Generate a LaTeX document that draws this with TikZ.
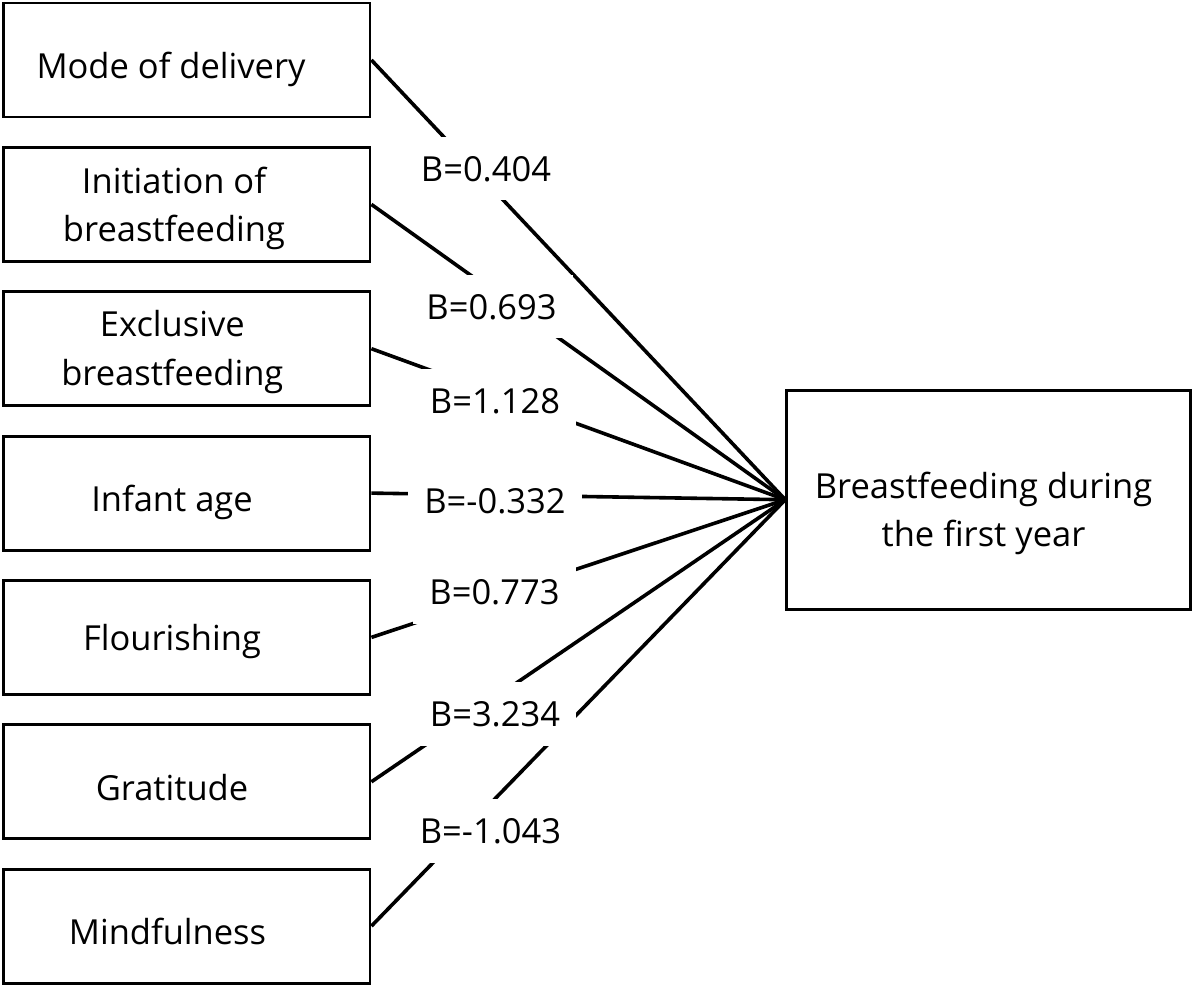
\documentclass[tikz,border=0pt]{standalone}
\usepackage{fontspec}
\setmainfont{Open Sans}
\begin{document}
\begin{tikzpicture}[x=0.5pt,y=-0.5pt]
\tikzstyle{every node}+=[font=\fontsize{17.25}{24.15}\selectfont]
\tikzstyle{factor}=[draw, line width=1.4pt, minimum width=183.3pt, minimum height=57pt, inner sep=0pt]
\tikzstyle{outcome}=[draw, line width=1.4pt, minimum width=202pt, minimum height=109.6pt, inner sep=0pt]
\tikzstyle{caption}=[anchor=base, align=center, inner sep=0pt]
\tikzstyle{coef}=[anchor=base, fill=white, inner xsep=8pt, inner ysep=9.5pt]
\useasboundingbox (0,0) rectangle (1192,985);
% predictor boxes
\node [factor] (f1) at (186.7,60) {};
\node [factor] (f2) at (186.7,204.4) {};
\node [factor] (f3) at (186.7,348.7) {};
\node [factor] (f4) at (186.7,493.1) {};
\node [factor] (f5) at (186.7,637.4) {};
\node [factor] (f6) at (186.7,781.8) {};
\node [factor] (f7) at (186.7,926.1) {};
\node [caption] (n1) at (171,78.3) {Mode of delivery};
\node [caption] (n2) at (174,241.7) {Initiation of\\breastfeeding};
\node [caption] (n3) at (172.3,385) {Exclusive\\breastfeeding};
\node [caption] (n4) at (172,511) {Infant age};
\node [caption] (n5) at (172,650.7) {Flourishing};
\node [caption] (n6) at (172,800) {Gratitude};
\node [caption] (n7) at (167.5,944) {Mindfulness};
% outcome box
\node [outcome] (out) at (988.7,499.7) {};
\node [caption] (n8) at (983.5,546.7) {Breastfeeding during\\the first year};
% paths
\foreach \i in {1,...,7}
  \draw [line width=1.8pt] (f\i.east) -- (out.west);
\node [coef] (b1) at (486,181) {B=0.404};
\node [coef] (b2) at (491.5,319) {B=0.693};
\node [coef] (b3) at (495,413) {B=1.128};
\node [coef] (b4) at (495,513) {B=-0.332};
\node [coef] (b5) at (494.5,604) {B=0.773};
\node [coef] (b6) at (495,726) {B=3.234};
\node [coef] (b7) at (490.5,843) {B=-1.043};
\end{tikzpicture}
\end{document}
